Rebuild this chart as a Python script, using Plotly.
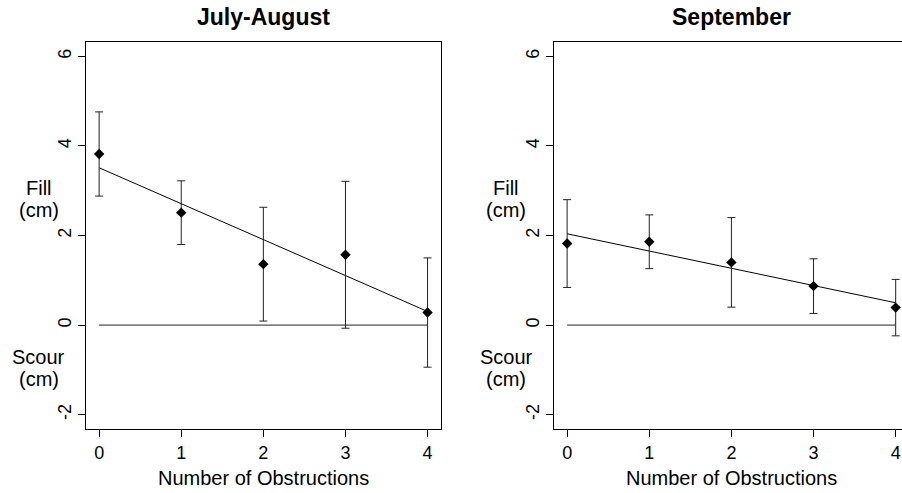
import numpy as np
import plotly.graph_objects as go

# Mean fill/scour (cm) by number of obstructions, with error half-widths
obstructions = [0, 1, 2, 3, 4]
julaug_mean = [3.82, 2.51, 1.36, 1.57, 0.28]
julaug_err = [0.94, 0.71, 1.27, 1.64, 1.22]
sep_mean = [1.82, 1.86, 1.40, 0.87, 0.39]
sep_err = [0.98, 0.60, 1.00, 0.61, 0.63]
zero_level = [0, 0, 0, 0, 0]

y_ticks = [-2, 0, 2, 4, 6]
y_tick_labels = ["-2", "0", "2", "4", "6"]
x_ticks = [0, 1, 2, 3, 4]
panel_titles = ["July-August", "September"]

W, H = 902, 493
FONT = "Liberation Sans, Arial, sans-serif"


def px_x(p):
    return p / W


def px_y(p):
    return 1 - p / H


fig = go.Figure()

panels = [
    (julaug_mean, julaug_err, "x", "y"),
    (sep_mean, sep_err, "x2", "y2"),
]

for means, errs, xa, ya in panels:
    # zero reference line
    fig.add_trace(go.Scatter(
        x=obstructions, y=zero_level, mode="lines",
        line=dict(color="#222222", width=1),
        xaxis=xa, yaxis=ya, showlegend=False, hoverinfo="skip"))
    # least-squares fit of the means
    slope, intercept = np.polyfit(obstructions, means, 1)
    fit_x = [obstructions[0], obstructions[-1]]
    fit_y = [intercept + slope * v for v in fit_x]
    fig.add_trace(go.Scatter(
        x=fit_x, y=fit_y, mode="lines",
        line=dict(color="black", width=1),
        xaxis=xa, yaxis=ya, showlegend=False, hoverinfo="skip"))
    # means with error bars
    fig.add_trace(go.Scatter(
        x=obstructions, y=means, mode="markers",
        marker=dict(symbol="diamond", size=8, color="black"),
        error_y=dict(type="data", array=errs, visible=True,
                     color="#222222", thickness=1, width=4),
        xaxis=xa, yaxis=ya, showlegend=False))

common_x = dict(
    tickvals=x_ticks, ticks="outside", ticklen=7, tickcolor="black",
    showline=True, linecolor="black", linewidth=1, mirror=True,
    showgrid=False, zeroline=False, ticklabelstandoff=0,
    tickfont=dict(family=FONT, size=18, color="black"))
common_y = dict(
    tickvals=y_ticks, ticktext=y_tick_labels, ticks="outside", ticklen=7,
    tickcolor="black", tickangle=-90, range=[-2.32, 6.32],
    showline=True, linecolor="black", linewidth=1,
    showgrid=False, zeroline=False, ticklabelstandoff=0,
    tickfont=dict(family=FONT, size=18, color="black"),
    domain=[px_y(429), px_y(42)])

fig.update_layout(
    width=W, height=H,
    margin=dict(l=0, r=0, t=0, b=0),
    paper_bgcolor="white", plot_bgcolor="white",
    xaxis=dict(domain=[px_x(86), px_x(440.7)], range=[-0.16, 4.16], **common_x),
    yaxis=dict(anchor="x", mirror=True, **common_y),
    xaxis2=dict(domain=[px_x(554), 1.0], range=[-0.16, 4.077], anchor="y2", **common_x),
    yaxis2=dict(anchor="x2", mirror=False, **common_y),
)

annotations = []
# panel titles
for title, cx in zip(panel_titles, [263, 731.7]):
    annotations.append(dict(
        text="<b>" + title + "</b>", x=px_x(cx), y=px_y(17),
        font=dict(family=FONT, size=23, color="black")))
# x-axis titles
for cx in [263, 731]:
    annotations.append(dict(
        text="Number of Obstructions", x=px_x(cx), y=px_y(478),
        font=dict(family=FONT, size=20, color="black")))
# side labels for the fill/scour directions
side_labels = [("Fill", 187.5), ("(cm)", 210), ("Scour", 356.5), ("(cm)", 379)]
for cx in [38.5, 506]:
    for txt, cy in side_labels:
        annotations.append(dict(
            text=txt, x=px_x(cx), y=px_y(cy),
            font=dict(family=FONT, size=20, color="black")))

for a in annotations:
    a.update(xref="paper", yref="paper", showarrow=False,
             xanchor="center", yanchor="middle")
fig.update_layout(annotations=annotations)

fig.write_html("out.html")
